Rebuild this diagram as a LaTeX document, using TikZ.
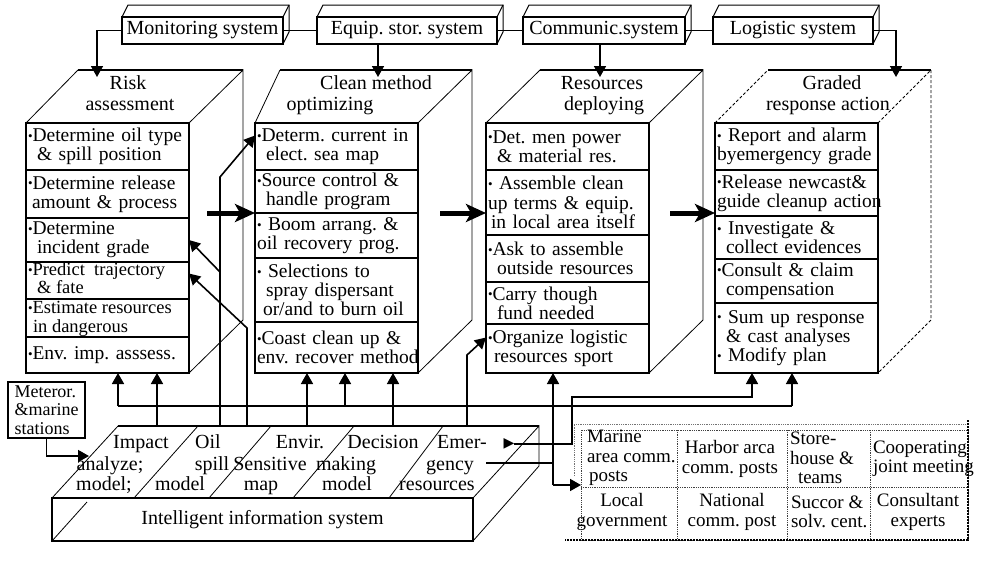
\documentclass[tikz,border=0pt]{standalone}
\usepackage{fontspec}
\setmainfont{Liberation Serif}
\newfontfamily\symfont{DejaVu Sans}
\usetikzlibrary{arrows.meta,calc}

\frenchspacing
\newcommand\bul{{\fontsize{13}{13}\selectfont\raisebox{1.2pt}{•}}}
\newcommand\ind{\hspace*{9pt}}
\newcommand\rline[1]{\mbox{#1}}

\begin{document}
\begin{tikzpicture}[x=1pt,y=-1pt,
  font=\fontsize{19.5}{19.5}\selectfont,
  every node/.style={inner sep=0pt, outer sep=0pt},
  lbl/.style={text height=13pt, text depth=4pt, font=\fontsize{20}{20}\selectfont},
  sys/.style={draw, line width=1.3pt, minimum height=27pt, font=\fontsize{20}{20}\selectfont},
  cell/.style={draw, line width=1.3pt, anchor=north west, align=left,
    inner xsep=2pt, text width=159pt, minimum height=#1,
    font=\fontsize{19.5}{19.2}\selectfont},
  celltext/.style={anchor=west, align=left},
  face/.style={anchor=north west, minimum width=163pt, minimum height=250pt},
  rim/.style={line width=0.8pt},
  gradrim/.style={line width=0.8pt, densely dashed},
  toprim/.style={line width=1.5pt},
  wire/.style={line width=1.6pt},
  arr/.style={wire, -{Triangle[length=11pt,width=12pt]}},
  bigarr/.style={line width=5pt, -{Stealth[length=20pt,width=18pt,inset=5pt]}},
  tcell/.style={font=\fontsize{19}{19.5}\selectfont},
  tgrid/.style={densely dotted, line width=0.8pt, black!75},
]
\useasboundingbox (0,0) rectangle (991,560);
\fill[white] (0,0) rectangle (991,560);

% ---------- support systems along the top ----------
\node[sys, minimum width=161pt] (mon) at (202.5,30.5) {Monitoring system};
\node[sys, minimum width=180pt] (equ) at (407,30.5) {Equip. stor. system};
\node[sys, minimum width=162pt] (com) at (604,30.5) {Communic.system};
\node[sys, minimum width=160pt] (log) at (793,30.5) {Logistic system};
\foreach \n in {mon,equ,com,log}{
  \draw[line width=1pt] (\n.north west) -- ++(6,-12) -- ($(\n.north east)+(6,-12)$)
     -- ($(\n.south east)+(6,-12)$) -- (\n.south east);
  \draw[line width=1pt] (\n.north east) -- ++(6,-12);
}
\draw[wire] (mon.east) -- (equ.west);
\draw[wire] (equ.east) -- (com.west);
\draw[wire] (com.east) -- (log.west);

% ---------- four working stages ----------
\node[face] (riskF) at (26,123) {};
\node[face] (cleanF) at (255,123) {};
\node[face] (resF) at (486,123) {};
\node[face] (gradF) at (715,123) {};

% risk assessment
\node[cell=47pt] (r1) at (26,123) {\rline{\bul Determine oil type}\\\rline{\ind\& spill position}};
\node[cell=48pt] (r2) at (26,170) {\rline{\bul Determine release}\\\rline{\hspace*{4pt}amount \& process}};
\node[cell=44pt] (r3) at (26,218) {\rline{\bul Determine}\\\rline{\ind incident grade}};
\node[cell=37pt] (r4) at (26,262) {};
\node[celltext, font=\fontsize{18.5}{17}\selectfont] (r4t) at ($(r4.west)+(2,-2.5)$)
  {\rline{\bul Predict\ \ trajectory}\\\rline{\ind\& fate}};
\node[cell=38pt] (r5) at (26,299) {};
\node[celltext, font=\fontsize{18.5}{18.5}\selectfont] (r5t) at ($(r5.west)+(2,1)$)
  {\rline{\bul Estimate resources}\\\rline{\hspace*{5pt}in dangerous}};
\node[cell=36pt] (r6) at (26,337) {\rline{\bul Env. imp. asssess.}};

% clean method optimizing
\node[cell=47pt] (c1) at (255,123) {\rline{\bul Determ. current in}\\\rline{\ind elect. sea map}};
\node[cell=43pt] (c2) at (255,170) {\rline{\bul Source control \&}\\\rline{\ind handle program}};
\node[cell=45pt] (c3) at (255,213) {\rline{\bul\ Boom arrang. \&}\\\rline{oil recovery prog.}};
\node[cell=64pt] (c4) at (255,258) {\rline{\bul\ Selections to}\\\rline{\ind spray dispersant}\\\rline{\hspace*{6pt}or/and to burn oil}};
\node[cell=51pt] (c5) at (255,322) {\rline{\bul Coast clean up \&}\\\rline{env. recover method}};

% resources deploying
\node[cell=47pt] (d1) at (486,123) {\rline{\bul Det. men power}\\\rline{\ind\& material res.}};
\node[cell=65pt] (d2) at (486,170) {\rline{\bul\ Assemble clean}\\\rline{up terms \& equip.}\\\rline{\hspace*{3pt}in local area itself}};
\node[cell=47pt] (d3) at (486,235) {\rline{\bul Ask to assemble}\\\rline{\ind outside resources}};
\node[cell=42pt] (d4) at (486,282) {\rline{\bul Carry though}\\\rline{\ind fund needed}};
\node[cell=49pt] (d5) at (486,324) {\rline{\bul Organize logistic}\\\rline{\hspace*{6pt}resources sport}};

% graded response action
\node[cell=47pt] (g1) at (715,123) {\rline{\bul\ Report and alarm}\\\rline{byemergency grade}};
\node[cell=46pt] (g2) at (715,170) {\rline{\bul Release newcast\&}\\\rline{guide cleanup action}};
\node[cell=43pt] (g3) at (715,216) {\rline{\bul\ Investigate \&}\\\rline{\ind collect evidences}};
\node[cell=44pt] (g4) at (715,259) {\rline{\bul Consult \& claim}\\\rline{\ind compensation}};
\node[cell=70pt] (g5) at (715,303) {\rline{\bul\ Sum up response}\\\rline{\ind\& cast analyses}\\\rline{\bul\ Modify plan}};

% block tops and sides
\draw[rim] (riskF.north west) -- ++(52,-53) coordinate (rk);
\draw[toprim] (rk) -- ($(riskF.north east)+(54,-53)$);
\draw[rim] (riskF.north east) -- ++(54,-53) -- ++(0,250) -- (riskF.south east);

\draw[rim] (cleanF.north west) -- ++(25,-53) coordinate (ck);
\draw[toprim] (ck) -- ($(cleanF.north east)+(54,-53)$);
\draw[rim] (cleanF.north east) -- ++(54,-53) -- ++(0,250) -- (cleanF.south east);

\draw[rim] (resF.north west) -- ++(54,-53) coordinate (dk);
\draw[toprim] (dk) -- ($(resF.north east)+(54,-53)$);
\draw[rim] (resF.north east) -- ++(54,-53) -- ++(0,250) -- (resF.south east);

\draw[gradrim] (gradF.north west) -- ++(53,-53) coordinate (gk);
\draw[toprim] (gk) -- ($(gradF.north east)+(53,-53)$);
\draw[gradrim] (gradF.north east) -- ++(53,-53) -- ++(0,250) -- (gradF.south east);

% block titles
\node[lbl] (hr1) at (128,85) {Risk};
\node[lbl] (hr2) at (130,106) {assessment};
\node[lbl] (hc1) at (376,85) {Clean method};
\node[lbl] (hc2) at (330,106) {optimizing};
\node[lbl] (hd1) at (602,85) {Resources};
\node[lbl] (hd2) at (604,106) {deploying};
\node[lbl] (hg1) at (832,85) {Graded};
\node[lbl] (hg2) at (828,106) {response action};

% systems feeding the stages
\coordinate (riskin) at (97,77);
\coordinate (cleanin) at (378,77);
\coordinate (resin) at (600,77);
\coordinate (gradin) at (896,77);
\draw[arr] (mon.west) -| (riskin);
\draw[arr] (equ.south -| cleanin) -- (cleanin);
\draw[arr] (com.south -| resin) -- (resin);
\draw[arr] (log.east) -| (gradin);

% main flow between stages
\coordinate (ta) at (207,213);
\coordinate (tb) at (440,213);
\coordinate (tc) at (670,213);
\draw[bigarr] (ta) -- (ta -| cleanF.west);
\draw[bigarr] (tb) -- (tb -| resF.west);
\draw[bigarr] (tc) -- (tc -| gradF.west);

% ---------- intelligent information system ----------
\node[draw, line width=1.3pt, minimum width=421pt, minimum height=43pt, anchor=north west,
  font=\fontsize{20}{20}\selectfont] (iis) at (52,498) {Intelligent information system};
\draw[rim] (iis.north west) -- ++(66,-72) coordinate (sbl);
\draw[toprim] (sbl) -- ($(iis.north east)+(66,-72)$) coordinate (sbr);
\draw[rim] (iis.north east) -- (sbr) -- ++(0,40) -- (iis.south east);
\draw[rim] (iis.south west) -- ++(35,-39);
\draw[rim] ($(iis.north west)+(82,0)$) -- ++(64,-72);
\draw[rim] ($(iis.north west)+(157,0)$) -- ++(62,-72);
\draw[rim] ($(iis.north west)+(241,0)$) -- ++(61,-72);
\draw[rim] ($(iis.north west)+(337,0)$) -- ++(54,-72);

\node[lbl] (m1) at (141,444) {Impact};
\node[lbl] (m2) at (110,466) {analyze;};
\node[lbl] (m3) at (104,486) {model;};
\node[lbl] (o1) at (208,444) {Oil};
\node[lbl] (o2) at (212,466) {spill};
\node[lbl] (o3) at (180,486) {model};
\node[lbl] (v1) at (300,444) {Envir.};
\node[lbl] (v2) at (270,466) {Sensitive};
\node[lbl] (v3) at (261,486) {map};
\node[lbl] (k1) at (383,444) {Decision};
\node[lbl] (k2) at (346,466) {making};
\node[lbl] (k3) at (347,486) {model};
\node[lbl] (e1) at (462,444) {Emer-};
\node[lbl] (e2) at (450,466) {gency};
\node[lbl] (e3) at (437,486) {resources};
\node[font=\symfont\fontsize{14}{14}\selectfont] (tri) at (509,444) {▶};

% meteorological input
\node[draw, line width=1.3pt, anchor=north west, minimum width=77pt, minimum height=56pt,
  align=left, inner xsep=2pt, font=\fontsize{18}{18.5}\selectfont] (met) at (8,382)
  {Meteror.\\\&marine\\stations};
\coordinate (mt) at (89,456);
\draw[arr] (met.south) |- (mt);

% models feeding the stages
\coordinate (b0) at (118,406);
\coordinate (b1) at (792,406);
\coordinate (b2) at (345,406);
\draw[wire] (b0) -- (b1);
\draw[arr] (b0) -- (b0 |- r6.south);
\draw[arr] (b2) -- (b2 |- c5.south);
\draw[arr] (b1) -- (b1 |- g5.south);

\coordinate (s1) at (157,426);
\coordinate (s2) at (220,426);
\coordinate (s3) at (247,426);
\coordinate (s4) at (307,426);
\coordinate (s5) at (393,426);
\coordinate (s6) at (467,426);
\coordinate (q2) at (220,177);
\coordinate (q2b) at (220,272);
\coordinate (q3) at (247,328);
\coordinate (q6) at (467,355);
\draw[arr] (s1) -- (s1 |- r6.south);
\draw[arr] (s2) -- (q2) -- ($(c1.west)+(0,-11)$);
\draw[arr] (q2b) -- (r3.east);
\draw[arr] (s3) -- (q3) -- ($(r4.east)+(0,-7)$);
\draw[arr] (s4) -- (s4 |- c5.south);
\draw[arr] (s5) -- (s5 |- c5.south);
\draw[arr] (s6) -- (q6) -- ($(d5.west)+(0,-11)$);

% ---------- command posts and partners ----------
\coordinate (T0) at (581,430);
\coordinate (T1) at (968,540);
\draw[tgrid] (T0) rectangle (T1);
\draw[tgrid] (581,487) -- (968,487);
\draw[tgrid] (677,430) -- (677,540);
\draw[tgrid] (787,430) -- (787,540);
\draw[tgrid] (870,430) -- (870,540);
\draw[tgrid, black!55] (574,476) -- (574,424) -- (968,424);
\draw[line width=2pt, densely dotted] (968,420) -- (T1) -- (565,540);

\node[tcell, align=left, anchor=west] (tmar) at (587,458) {Marine\\area comm.\\\hspace*{2pt}posts};
\node[tcell, align=center] (thar) at (730,459) {Harbor arca\\comm. posts};
\node[tcell, align=left, anchor=west] (tsto) at (790,458) {Store-\\house \&\\\hspace*{8pt}teams};
\node[tcell, align=left, anchor=west] (tcoo) at (873,459) {Cooperating\\joint meeting};
\node[tcell, align=center] (tloc) at (622,512) {Local\\government};
\node[tcell, align=center] (tnat) at (732,512) {National\\comm. post};
\node[tcell, align=left, anchor=west] (tsuc) at (791,512) {Succor \&\\solv. cent.};
\node[tcell, align=center] (tcon) at (918,512) {Consultant\\experts};

% links around resources deploying
\coordinate (rj) at (553,485);
\coordinate (e2out) at (486,463);
\coordinate (u1) at (572,397);
\coordinate (u2) at (752,397);
\draw[arr] (rj) -- (rj |- d5.south);
\draw[arr] (rj) -- (rj -| T0);
\draw[wire] (e2out) -- (e2out -| rj);
\draw[arr] (tri.east) -| (u1) -- (u2) -- (u2 |- g5.south);
\end{tikzpicture}
\end{document}
